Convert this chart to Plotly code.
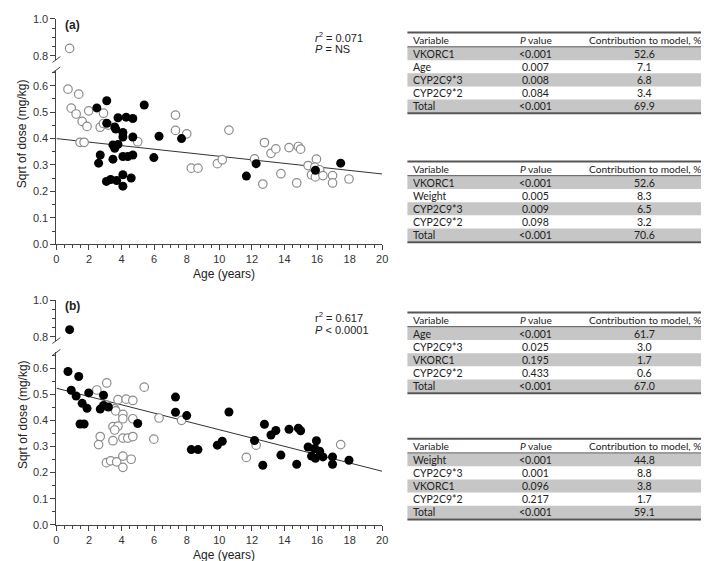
import plotly.graph_objects as go

# ── data ──────────────────────────────────────────────────────────────────────
# group A: filled in (a), open in (b)
grp_a_age = [3.09, 2.48, 5.39, 3.78, 4.28, 4.69, 3.09, 3.58, 3.64, 4.08, 4.08, 4.69,
             6.30, 7.68, 3.47, 3.78, 3.58, 2.69, 2.59, 3.47, 4.08, 4.38, 4.69, 5.98,
             3.07, 3.33, 3.70, 4.08, 4.59, 4.08, 11.66, 12.26, 15.90, 17.45]
grp_a_dose = [0.543, 0.516, 0.527, 0.479, 0.481, 0.476, 0.458, 0.444, 0.436, 0.423, 0.406, 0.406,
              0.409, 0.400, 0.376, 0.378, 0.363, 0.338, 0.307, 0.322, 0.332, 0.332, 0.338, 0.328,
              0.238, 0.245, 0.241, 0.263, 0.251, 0.220, 0.258, 0.305, 0.280, 0.307]

# group B: open in (a), filled in (b)
grp_b_age = [0.81, 0.71, 1.37, 0.91, 1.21, 1.98, 1.58, 1.88, 2.89, 2.69, 2.89, 3.19,
             1.45, 1.70, 4.99, 7.31, 7.31, 8.00, 8.28, 8.69, 10.59, 12.77, 13.17, 13.47,
             14.28, 14.85, 14.99, 12.16, 9.88, 10.18, 13.78, 12.67, 14.75, 15.45, 15.96,
             15.86, 15.66, 15.90, 16.16, 16.36, 16.95, 16.95, 17.96]
grp_b_dose = [0.840, 0.587, 0.568, 0.515, 0.493, 0.505, 0.465, 0.446, 0.496, 0.443, 0.457, 0.451,
              0.386, 0.386, 0.388, 0.489, 0.431, 0.418, 0.288, 0.288, 0.432, 0.385, 0.344, 0.361,
              0.366, 0.370, 0.360, 0.323, 0.305, 0.320, 0.267, 0.228, 0.232, 0.298, 0.322,
              0.292, 0.263, 0.255, 0.282, 0.260, 0.260, 0.232, 0.247]

fit_age = [0, 20]
fit_a = [0.400, 0.266]
fit_b = [0.523, 0.205]

tbl_header = ["Variable", "P value", "Contribution to model, %"]
t1_var = ["VKORC1", "Age", "CYP2C9*3", "CYP2C9*2", "Total"]
t1_p = ["<0.001", "0.007", "0.008", "0.084", "<0.001"]
t1_pct = ["52.6", "7.1", "6.8", "3.4", "69.9"]
t2_var = ["VKORC1", "Weight", "CYP2C9*3", "CYP2C9*2", "Total"]
t2_p = ["<0.001", "0.005", "0.009", "0.098", "<0.001"]
t2_pct = ["52.6", "8.3", "6.5", "3.2", "70.6"]
t3_var = ["Age", "CYP2C9*3", "VKORC1", "CYP2C9*2", "Total"]
t3_p = ["<0.001", "0.025", "0.195", "0.433", "<0.001"]
t3_pct = ["61.7", "3.0", "1.7", "0.6", "67.0"]
t4_var = ["Weight", "CYP2C9*3", "VKORC1", "CYP2C9*2", "Total"]
t4_p = ["<0.001", "0.001", "0.096", "0.217", "<0.001"]
t4_pct = ["44.8", "8.8", "3.8", "1.7", "59.1"]

# ── helpers ───────────────────────────────────────────────────────────────────
W, H = 709, 561
BREAK = 0.7
AX = "#444444"
FONT = "Liberation Sans, Arial, sans-serif"
TFONT = "Lato, Calibri, sans-serif"


def px(x):
    return x / W


def py(y):
    return 1 - y / H


def esc(s):
    return s.replace("<", "&lt;")


def split(ages, doses):
    lo = [(a, d) for a, d in zip(ages, doses) if d < BREAK]
    hi = [(a, d) for a, d in zip(ages, doses) if d >= BREAK]
    return ([a for a, _ in lo], [d for _, d in lo]), ([a for a, _ in hi], [d for _, d in hi])


filled = dict(size=9, color="black", line=dict(width=0))
opened = dict(size=8.5, color="white", line=dict(width=1.2, color="#8c8c8c"))

fig = go.Figure()

# panel (a): x / y (lower) / y2 (upper); panel (b): x2 / y3 / y4
panels = [
    dict(xa="x", lo="y", hi="y2", fill=(grp_a_age, grp_a_dose), open_=(grp_b_age, grp_b_dose), fit=fit_a),
    dict(xa="x2", lo="y3", hi="y4", fill=(grp_b_age, grp_b_dose), open_=(grp_a_age, grp_a_dose), fit=fit_b),
]

for p in panels:
    fig.add_trace(go.Scatter(x=fit_age, y=p["fit"], mode="lines", line=dict(color="#333", width=1),
                             xaxis=p["xa"], yaxis=p["lo"], hoverinfo="skip"))
    for (ages, doses), mk in [(p["open_"], opened), (p["fill"], filled)]:
        (lx, ly), (hx, hy) = split(ages, doses)
        fig.add_trace(go.Scatter(x=lx, y=ly, mode="markers", marker=mk, xaxis=p["xa"], yaxis=p["lo"]))
        fig.add_trace(go.Scatter(x=hx, y=hy, mode="markers", marker=mk, xaxis=p["xa"], yaxis=p["hi"],
                                 cliponaxis=False))

common = dict(showline=True, linecolor=AX, linewidth=1, ticks="outside", ticklen=5, tickwidth=1,
              tickcolor=AX, showgrid=False, zeroline=False, tickfont=dict(family=FONT, size=11, color="#333"))
xdom = [px(46), px(376)]
xax = dict(common, range=[0, 20], dtick=2, tick0=0, domain=xdom,
           minor=dict(dtick=0.5, ticklen=3, tickcolor=AX, ticks="outside"))
ylo = dict(common, range=[0, 0.66], dtick=0.1, tick0=0, tickformat=".1f",
           minor=dict(dtick=0.05, ticklen=3, tickcolor=AX, ticks="outside"))
yhi = dict(common, range=[0.78, 1.001], dtick=0.2, tick0=0, tickformat=".1f",
           minor=dict(dtick=0.05, ticklen=3, tickcolor=AX, ticks="outside"))

fig.update_layout(
    xaxis=dict(xax, anchor="y"),
    yaxis=dict(ylo, anchor="x", domain=[py(235.3), py(57.1)]),
    yaxis2=dict(yhi, anchor="x", domain=[py(46.5), py(4.7)]),
    xaxis2=dict(xax, anchor="y3"),
    yaxis3=dict(ylo, anchor="x2", domain=[py(522), py(345.8)]),
    yaxis4=dict(yhi, anchor="x2", domain=[py(333.7), py(292.7)]),
)

# axis break marks
for yb in [46.5, 57.1, 333.7, 345.8]:
    fig.add_shape(type="line", xref="paper", yref="paper", x0=px(42), x1=px(50),
                  y0=py(yb + 3), y1=py(yb - 3), line=dict(color=AX, width=1))


def note(x, y, text, anchor="center", family=FONT, size=11, **kw):
    fig.add_annotation(x=px(x), y=py(y), text=text, xanchor=anchor, yanchor="middle",
                       showarrow=False, xref="paper", yref="paper",
                       font=dict(family=family, size=size, color="#222"), **kw)


# panel labels, stats, axis titles
for top, tag, stat in [(0, "(a)", ["<i>r</i><sup>2</sup> = 0.071", "<i>P</i> = NS"]),
                       (287, "(b)", ["r<sup>2</sup> = 0.617", "<i>P</i> &lt; 0.0001"])]:
    note(62, top + 11, "<b>" + tag + "</b>", size=12)
    note(306, top + 23, stat[0], anchor="left")
    note(306, top + 36, stat[1], anchor="left")
    note(12, top + 122, "Sqrt of dose (mg/kg)", size=12, textangle=-90)
    note(216, top + 266, "Age (years)", size=12)


def add_table(top, names, pvals, pcts):
    x0, x1, rh = 401.5, 709, 13.4
    hdr_y = top + 7.5
    for txt, x, anc in [(tbl_header[0], 405, "left"), ("<i>P</i> value", 531.5, "center"),
                        (tbl_header[2], 642, "center")]:
        note(x, hdr_y, txt, anchor=anc, family=TFONT, size=10.2)
    for i, (n, p, c) in enumerate(zip(names, pvals, pcts)):
        cy = top + 21.5 + rh * i
        if i % 2 == 0:
            fig.add_shape(type="rect", xref="paper", yref="paper", x0=px(x0), x1=px(x1),
                          y0=py(cy + rh / 2), y1=py(cy - rh / 2), fillcolor="#c6c6c6",
                          line=dict(width=0), layer="below")
        for txt, x, anc in [(n, 405, "left"), (esc(p), 531.5, "center"), (c, 642, "center")]:
            note(x, cy, txt, anchor=anc, family=TFONT, size=10.5)
    for yl, w in [(top, 2), (top + 14.5, 1), (top + 82.5, 2)]:
        fig.add_shape(type="line", xref="paper", yref="paper", x0=px(x0), x1=px(x1),
                      y0=py(yl), y1=py(yl), line=dict(color="#555", width=w))


add_table(19, t1_var, t1_p, t1_pct)
add_table(150.7, t2_var, t2_p, t2_pct)
add_table(305, t3_var, t3_p, t3_pct)
add_table(434, t4_var, t4_p, t4_pct)

fig.update_layout(width=W, height=H, margin=dict(l=0, r=0, t=0, b=0), showlegend=False,
                  paper_bgcolor="white", plot_bgcolor="white")

fig.write_html("out.html")
